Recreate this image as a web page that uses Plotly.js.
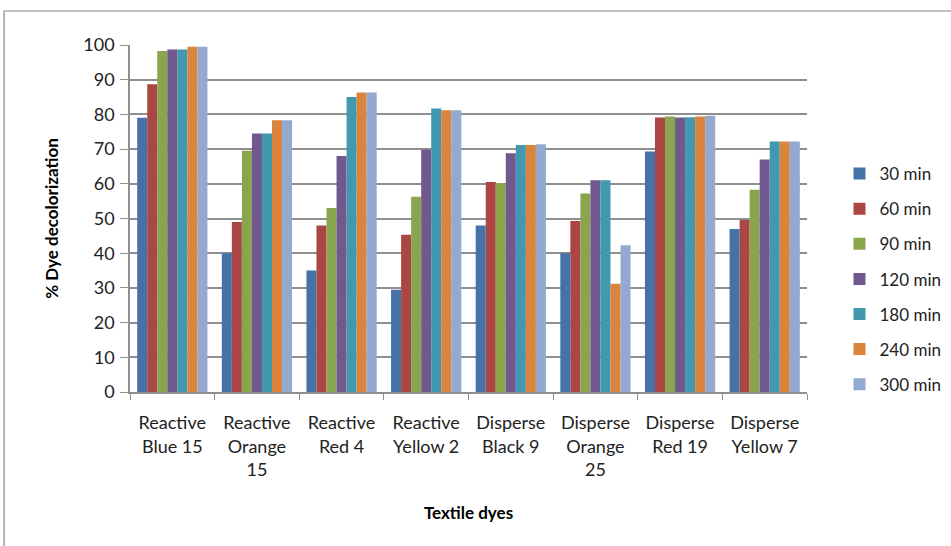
<!DOCTYPE html>
<html>
<head>
<meta charset="utf-8">
<script src="https://cdn.plot.ly/plotly-3.0.1.min.js"></script>
<style>html,body{margin:0;padding:0;background:#fff;}#chart{width:951px;height:546px;}</style>
</head>
<body>
<div id="chart"></div>
<script>
const categories = ["Reactive<br>Blue 15", "Reactive<br>Orange<br>15", "Reactive<br>Red 4", "Reactive<br>Yellow 2", "Disperse<br>Black 9", "Disperse<br>Orange<br>25", "Disperse<br>Red 19", "Disperse<br>Yellow 7"];
const seriesNames = ["30 min", "60 min", "90 min", "120 min", "180 min", "240 min", "300 min"];
const min30  = [79.0, 40.0, 35.0, 29.5, 48.0, 40.0, 69.3, 47.0];
const min60  = [88.7, 49.0, 48.0, 45.3, 60.5, 49.3, 79.1, 49.6];
const min90  = [98.3, 69.5, 53.0, 56.3, 60.2, 57.2, 79.4, 58.3];
const min120 = [98.7, 74.5, 68.0, 69.8, 68.8, 61.0, 79.1, 67.0];
const min180 = [98.7, 74.5, 85.0, 81.7, 71.2, 61.0, 79.2, 72.2];
const min240 = [99.5, 78.3, 86.3, 81.2, 71.2, 31.2, 79.4, 72.2];
const min300 = [99.5, 78.3, 86.3, 81.2, 71.4, 42.3, 79.6, 72.2];
const allSeries = [min30, min60, min90, min120, min180, min240, min300];
const colors = ["#4572A7", "#AA4643", "#89A54E", "#71588F", "#4198AF", "#DB843D", "#93A9CF"];

const traces = allSeries.map((vals, i) => ({
  type: "bar",
  name: seriesNames[i],
  x: categories,
  y: vals,
  legendgroup: "g" + i,
  marker: {color: colors[i], line: {width: 0}}
}));

const font = "Lato, Open Sans, sans-serif";
const layout = {
  width: 951, height: 546,
  margin: {l: 130, r: 144, t: 45, b: 154, autoexpand: false},
  paper_bgcolor: "#ffffff",
  plot_bgcolor: "#ffffff",
  barmode: "group",
  bargap: 0.17,
  bargroupgap: 0,
  showlegend: true,
  font: {family: font, size: 18, color: "#222"},
  xaxis: {
    type: "category",
    showgrid: false,
    showline: true, linecolor: "#909090", linewidth: 1.5,
    ticks: "outside", ticklen: 6, tickcolor: "#909090",
    tickson: "boundaries",
    ticklabelstandoff: 14,
    tickfont: {family: font, size: 18, color: "#222"},
    title: {text: "Textile dyes", font: {family: font, size: 17, color: "#000", weight: "bold"}, standoff: 28},
    automargin: false
  },
  yaxis: {
    range: [0, 100],
    dtick: 10,
    showgrid: true, gridcolor: "#8f8f8f", gridwidth: 1.5,
    showline: true, linecolor: "#909090", linewidth: 1.5,
    ticks: "outside", ticklen: 8, tickcolor: "#909090",
    ticklabelstandoff: 2,
    tickfont: {family: font, size: 18, color: "#222"},
    zeroline: false,
    title: {text: "% Dye decolorization", font: {family: font, size: 17, color: "#000", weight: "bold"}, standoff: 20},
    automargin: false
  },
  legend: {
    x: 1.048, xanchor: "left",
    y: 0.68, yanchor: "top",
    traceorder: "grouped",
    tracegroupgap: 10,
    font: {family: font, size: 17, color: "#222"},
    itemwidth: 30,
    bgcolor: "rgba(0,0,0,0)"
  },
  shapes: [{
    type: "rect", xref: "paper", yref: "paper",
    x0: -0.186, x1: 1.3, y0: 1.098, y1: -0.5,
    line: {color: "#888", width: 1.2}, fillcolor: "rgba(0,0,0,0)", layer: "below"
  }]
};

Plotly.newPlot("chart", traces, layout, {displayModeBar: false});
</script>
</body>
</html>
